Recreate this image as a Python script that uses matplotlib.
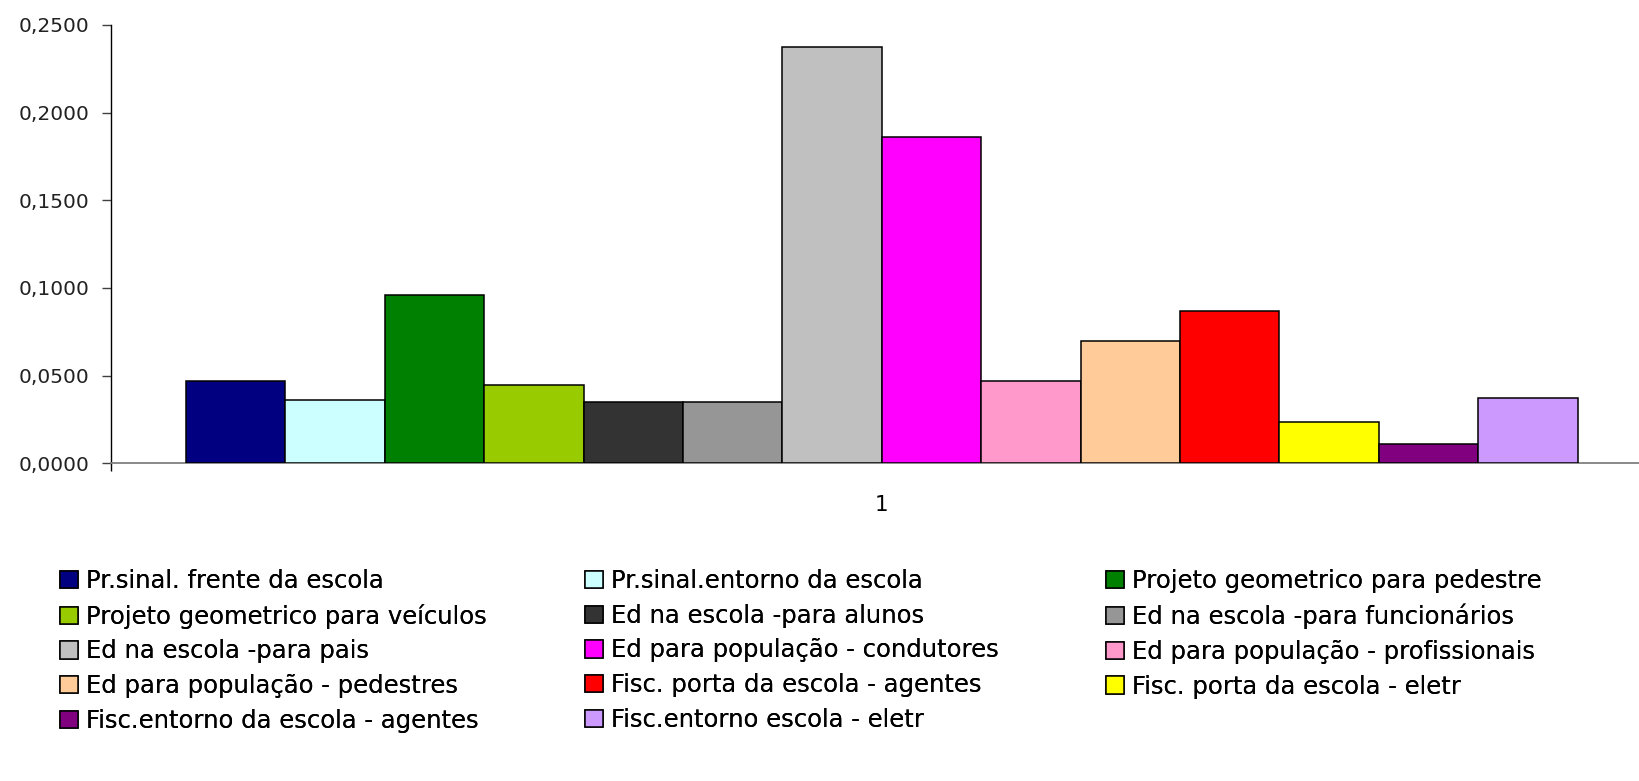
import matplotlib
matplotlib.use("Agg")
import matplotlib.pyplot as plt
import numpy as np

plt.rcParams['font.family'] = ['DejaVu Sans']

series = [
    "Pr.sinal. frente da escola",
    "Pr.sinal.entorno da escola",
    "Projeto geometrico para pedestre",
    "Projeto geometrico para veículos",
    "Ed na escola -para alunos",
    "Ed na escola -para funcionários",
    "Ed na escola -para pais",
    "Ed para população - condutores",
    "Ed para população - profissionais",
    "Ed para população - pedestres",
    "Fisc. porta da escola - agentes",
    "Fisc. porta da escola - eletr",
    "Fisc.entorno da escola - agentes",
    "Fisc.entorno escola - eletr",
]
values = [0.0471, 0.0361, 0.0958, 0.0447, 0.0348, 0.0348, 0.2373,
          0.1861, 0.0471, 0.0699, 0.0870, 0.0234, 0.0110, 0.0372]
colors = ["#000080", "#CCFFFF", "#008000", "#99CC00", "#333333", "#969696", "#C0C0C0",
          "#FF00FF", "#FF99CC", "#FFCC99", "#FF0000", "#FFFF00", "#800080", "#CC99FF"]
category = ["1"]
yticks = [0.0, 0.05, 0.10, 0.15, 0.20, 0.25]
ytick_labels = ["0,0000", "0,0500", "0,1000", "0,1500", "0,2000", "0,2500"]

W, H = 1639, 781
fig = plt.figure(figsize=(W / 100, H / 100), dpi=100)
ax = fig.add_axes([111 / W, 1 - 463.3 / H, 1 - 111 / W, (463.3 - 25) / H])

n = len(values)
bars = []
for i in range(n):
    b = ax.bar(i + 0.5, values[i], width=1.0, color=colors[i],
               edgecolor="black", linewidth=1.1, label=series[i], zorder=3)
    bars.append(b)

# one category: group centred, axis runs past the figure edge on the right
x0 = -(186 - 111) / 99.4
x1 = x0 + (W - 111) / 99.4
ax.set_xlim(x0, x1)
ax.set_ylim(0, 0.25)

ax.set_yticks(yticks, labels=ytick_labels)
ax.tick_params(axis="y", direction="out", length=6.5, width=1, color="#404040",
               pad=9, labelsize=14.5, labelcolor="#222222")

ax.set_xticks([x0])
ax.set_xticklabels([""])
ax.tick_params(axis="x", which="major", direction="out", length=6, width=1, color="black")
ax.set_xticks([n / 2], labels=category, minor=True)
ax.tick_params(axis="x", which="minor", length=0, pad=23, labelsize=15.5)

for s in ["top", "right"]:
    ax.spines[s].set_visible(False)
ax.spines["left"].set_color("black")
ax.spines["left"].set_linewidth(1)
ax.spines["bottom"].set_color("#808080")
ax.spines["bottom"].set_linewidth(1.3)

# legend laid out row by row in three fixed columns
col_x = [60, 585, 1106]
for c in range(3):
    idx = list(range(c, n, 3))
    leg = fig.legend([bars[i] for i in idx], [series[i] for i in idx],
                     loc="upper left", bbox_to_anchor=(col_x[c] / W, 1 - 569 / H),
                     frameon=False, fontsize=17.5, handlelength=0.72, handleheight=0.72,
                     handletextpad=0.35, labelspacing=0.44,
                     borderpad=0, borderaxespad=0)
    fig.add_artist(leg)

fig.savefig("out.png", dpi=100)
